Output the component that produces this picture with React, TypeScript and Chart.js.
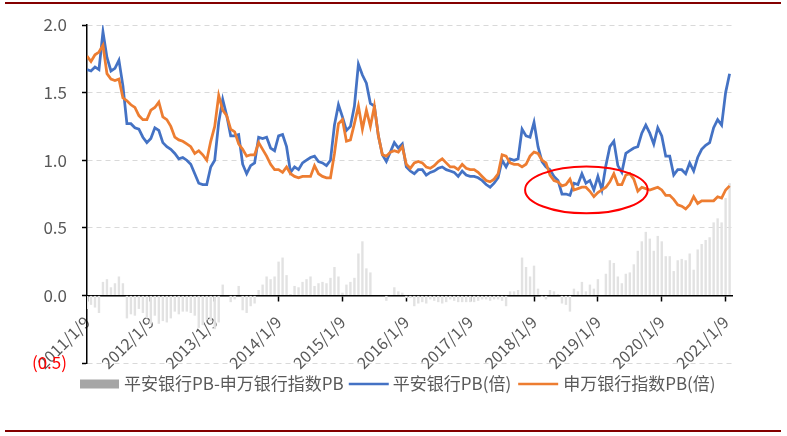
import React, { useEffect, useRef } from 'react';
import { Chart, registerables } from 'chart.js';

Chart.register(...registerables);

// sampling: 16 points per year starting 2011/1/9
const pointsPerYear = 16;

const yearTickLabels = [
  '2011/1/9', '2012/1/9', '2013/1/9', '2014/1/9', '2015/1/9', '2016/1/9',
  '2017/1/9', '2018/1/9', '2019/1/9', '2020/1/9', '2021/1/9',
];

// 平安银行PB(倍)
const pinganPB = [
  1.67, 1.66, 1.69, 1.67, 1.95, 1.76, 1.66, 1.68, 1.74, 1.55,
  1.27, 1.27, 1.24, 1.23, 1.17, 1.13, 1.16, 1.24, 1.22, 1.13,
  1.10, 1.08, 1.05, 1.01, 1.02, 1.00, 0.97, 0.90, 0.83, 0.82,
  0.82, 0.95, 1.00, 1.28, 1.45, 1.33, 1.18, 1.18, 1.19, 0.97,
  0.90, 0.96, 0.98, 1.17, 1.16, 1.17, 1.09, 1.07, 1.18, 1.19,
  1.10, 0.91, 0.95, 0.93, 0.98, 1.00, 1.02, 1.03, 0.99, 0.98,
  0.96, 1.00, 1.26, 1.41, 1.32, 1.22, 1.25, 1.40, 1.71, 1.63,
  1.57, 1.42, 1.40, 1.18, 1.04, 0.99, 1.06, 1.13, 1.09, 1.12,
  0.95, 0.92, 0.90, 0.93, 0.93, 0.89, 0.91, 0.92, 0.94, 0.95,
  0.93, 0.92, 0.91, 0.88, 0.92, 0.89, 0.88, 0.88, 0.87, 0.85,
  0.82, 0.80, 0.83, 0.87, 1.00, 0.95, 1.01, 1.00, 1.01, 1.23,
  1.18, 1.17, 1.28, 1.10, 0.99, 0.95, 0.93, 0.88, 0.85, 0.75,
  0.75, 0.74, 0.83, 0.82, 0.90, 0.83, 0.85, 0.78, 0.88, 0.78,
  0.96, 1.10, 1.14, 0.96, 0.91, 1.05, 1.07, 1.09, 1.10, 1.20,
  1.26, 1.20, 1.12, 1.24, 1.18, 1.03, 1.03, 0.89, 0.93, 0.93,
  0.90, 0.98, 0.92, 1.02, 1.08, 1.11, 1.13, 1.24, 1.30, 1.26,
  1.50, 1.64,
];

// 申万银行指数PB(倍)
const bankIndexPB = [
  1.77, 1.73, 1.78, 1.80, 1.85, 1.64, 1.60, 1.59, 1.60, 1.46,
  1.44, 1.41, 1.39, 1.33, 1.30, 1.30, 1.37, 1.39, 1.43, 1.32,
  1.30, 1.25, 1.17, 1.15, 1.14, 1.12, 1.10, 1.05, 1.07, 1.04,
  1.00, 1.14, 1.25, 1.48, 1.37, 1.33, 1.23, 1.21, 1.12, 1.08,
  1.03, 1.04, 1.04, 1.13, 1.08, 1.03, 0.97, 0.93, 0.93, 0.91,
  0.95, 0.90, 0.88, 0.87, 0.88, 0.88, 0.88, 0.96, 0.90, 0.88,
  0.87, 0.87, 1.05, 1.27, 1.30, 1.14, 1.15, 1.27, 1.40, 1.23,
  1.37, 1.25, 1.40, 1.18, 1.04, 1.03, 1.06, 1.07, 1.06, 1.10,
  0.97, 0.94, 0.98, 0.99, 0.98, 0.95, 0.94, 0.96, 0.99, 1.01,
  0.98, 0.95, 0.95, 0.93, 0.97, 0.94, 0.93, 0.93, 0.91, 0.88,
  0.85, 0.84, 0.86, 0.90, 1.04, 1.03, 0.98, 0.97, 0.97, 0.95,
  0.97, 1.03, 1.06, 1.05, 1.00, 0.98, 0.89, 0.85, 0.84, 0.81,
  0.82, 0.86, 0.78, 0.79, 0.80, 0.80, 0.77, 0.73, 0.76, 0.78,
  0.80, 0.84, 0.90, 0.82, 0.82, 0.89, 0.90, 0.86, 0.77, 0.80,
  0.79, 0.78, 0.79, 0.80, 0.78, 0.74, 0.74, 0.71, 0.67, 0.66,
  0.64, 0.67, 0.73, 0.68, 0.70, 0.70, 0.70, 0.70, 0.73, 0.72,
  0.78, 0.81,
];

const seriesNames = ['平安银行PB-申万银行指数PB', '平安银行PB(倍)', '申万银行指数PB(倍)'];

// highlighted region (annotation ellipse), in data units
const highlight = { x: 7.82, y: 0.78, rx: 0.96, ry: 0.173 };

const BLUE = '#4472C4';
const ORANGE = '#ED7D31';
const BAR = '#e2e2e2';
const LEGEND_BAR = '#a6a6a6';
const TEXT = '#595959';
const FONT_FAMILY = '"Noto Sans CJK SC", "Noto Sans", sans-serif';

const decorPlugin = {
  id: 'decor',
  afterDatasetsDraw(chart: any) {
    const { ctx, scales } = chart;
    const cx = scales.x.getPixelForValue(highlight.x);
    const cy = scales.y.getPixelForValue(highlight.y);
    const rx = Math.abs(scales.x.getPixelForValue(highlight.x + highlight.rx) - cx);
    const ry = Math.abs(scales.y.getPixelForValue(highlight.y + highlight.ry) - cy);
    ctx.save();
    ctx.strokeStyle = '#ff0000';
    ctx.lineWidth = 2;
    ctx.beginPath();
    ctx.ellipse(cx, cy, rx, ry, 0, 0, Math.PI * 2);
    ctx.stroke();
    ctx.restore();
  },
  afterDraw(chart: any) {
    const { ctx } = chart;
    ctx.save();
    // frame rules
    ctx.fillStyle = '#840000';
    ctx.fillRect(5, 2, 776, 2);
    ctx.fillRect(5, 430, 776, 2);

    // legend
    const ly = 384;
    ctx.font = `17px ${FONT_FAMILY}`;
    ctx.textBaseline = 'middle';
    ctx.textAlign = 'left';
    let x = 80;
    ctx.fillStyle = LEGEND_BAR;
    ctx.fillRect(x, ly - 4.5, 39, 9);
    x += 44;
    ctx.fillStyle = TEXT;
    ctx.fillText(seriesNames[0], x, ly);
    x += ctx.measureText(seriesNames[0]).width + 5;
    ctx.strokeStyle = BLUE;
    ctx.lineWidth = 2.5;
    ctx.beginPath();
    ctx.moveTo(x, ly);
    ctx.lineTo(x + 40, ly);
    ctx.stroke();
    x += 44;
    ctx.fillText(seriesNames[1], x, ly);
    x += ctx.measureText(seriesNames[1]).width + 7;
    ctx.strokeStyle = ORANGE;
    ctx.beginPath();
    ctx.moveTo(x, ly);
    ctx.lineTo(x + 40, ly);
    ctx.stroke();
    x += 45;
    ctx.fillText(seriesNames[2], x, ly);
    ctx.restore();
  },
};

export default function App() {
  const canvasRef = useRef<HTMLCanvasElement | null>(null);

  useEffect(() => {
    if (!canvasRef.current) return;
    const toPoints = (arr: number[]) => arr.map((v, i) => ({ x: i / pointsPerYear, y: v }));
    const diff = pinganPB.map((v, i) => Math.round((v - bankIndexPB[i]) * 100) / 100);

    const chart = new Chart(canvasRef.current, {
      type: 'bar',
      data: {
        datasets: [
          {
            type: 'bar',
            label: seriesNames[0],
            data: toPoints(diff),
            backgroundColor: BAR,
            barPercentage: 0.6,
            categoryPercentage: 1,
            order: 3,
          } as any,
          {
            type: 'line',
            label: seriesNames[1],
            data: toPoints(pinganPB),
            borderColor: BLUE,
            backgroundColor: BLUE,
            borderWidth: 2.75,
            pointRadius: 0,
            tension: 0,
            order: 2,
          },
          {
            type: 'line',
            label: seriesNames[2],
            data: toPoints(bankIndexPB),
            borderColor: ORANGE,
            backgroundColor: ORANGE,
            borderWidth: 2.75,
            pointRadius: 0,
            tension: 0,
            order: 1,
          },
        ],
      },
      options: {
        animation: false,
        responsive: false,
        events: [],
        layout: { padding: { left: 0, right: 55, top: 25, bottom: 73 } },
        plugins: { legend: { display: false }, tooltip: { enabled: false } },
        scales: {
          x: {
            type: 'linear',
            position: { y: 0 } as any,
            min: 0,
            max: 10.1,
            offset: false,
            afterBuildTicks: (scale: any) => {
              scale.ticks = yearTickLabels.map((_, k) => ({ value: k }));
            },
            afterFit: (scale: any) => {
              scale.paddingLeft = 0;
              scale.paddingRight = 0;
            },
            ticks: {
              autoSkip: false,
              minRotation: 45,
              maxRotation: 45,
              padding: 12,
              color: TEXT,
              font: { family: FONT_FAMILY, size: 16 },
              callback: (v: any) => yearTickLabels[Math.round(Number(v))] ?? '',
            },
            grid: {
              offset: false,
              drawOnChartArea: false,
              drawTicks: true,
              tickLength: 5,
              tickColor: '#000',
              tickWidth: 1.5,
            },
            border: { display: true, color: '#000', width: 1.5 },
          } as any,
          y: {
            type: 'linear',
            min: -0.5,
            max: 2.0,
            afterFit: (scale: any) => {
              scale.width = 87;
              scale.paddingTop = 0;
              scale.paddingBottom = 0;
            },
            ticks: {
              stepSize: 0.5,
              padding: 15,
              color: (c: any) => (c.tick && c.tick.value < 0 ? '#ff0000' : TEXT),
              font: { family: FONT_FAMILY, size: 17 },
              callback: (v: any) => {
                const n = Number(v);
                return n < 0 ? `(${Math.abs(n).toFixed(1)})` : n.toFixed(1);
              },
            },
            grid: {
              color: (c: any) => (c.tick && c.tick.value === 0 ? 'rgba(0,0,0,0)' : '#d9d9d9'),
              lineWidth: 1,
              drawTicks: true,
              tickLength: 5,
              tickColor: '#000',
              tickWidth: 1.5,
            },
            border: { display: true, color: '#000', width: 1.5, dash: [5, 4] },
          } as any,
        },
      },
      plugins: [decorPlugin],
    });
    return () => chart.destroy();
  }, []);

  return (
    <div style={{ position: 'fixed', left: 0, top: 0, width: 787, height: 436, background: '#fff' }}>
      <canvas ref={canvasRef} width={787} height={436} style={{ width: 787, height: 436, display: 'block' }} />
    </div>
  );
}
